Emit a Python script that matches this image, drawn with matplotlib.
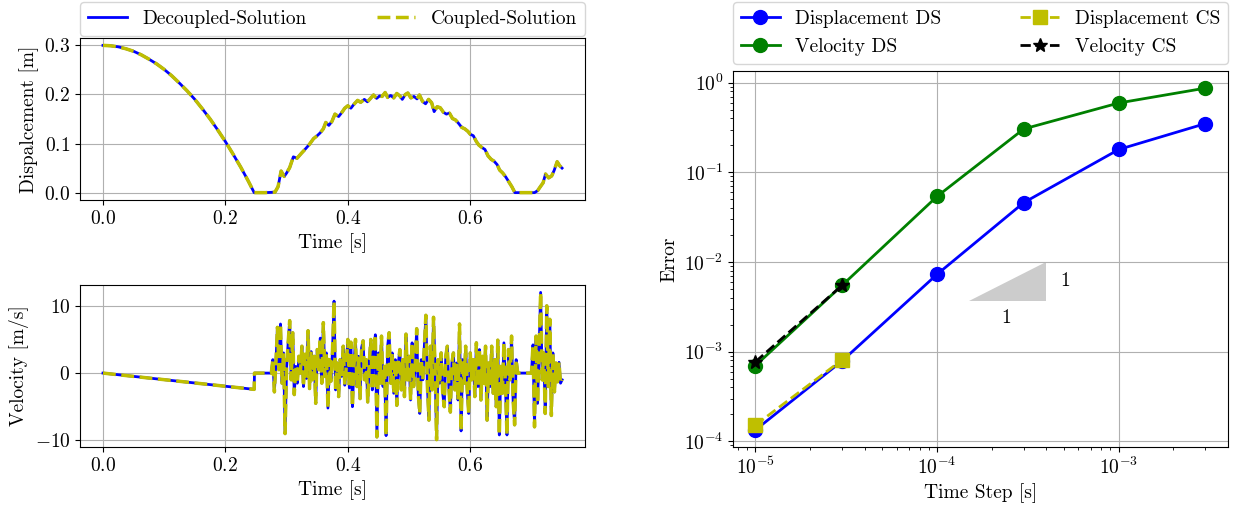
import numpy as np
import matplotlib
matplotlib.use("Agg")
import matplotlib.pyplot as plt
from matplotlib.ticker import MultipleLocator

plt.rcParams['font.family'] = 'serif'
plt.rcParams['font.serif'] = ['cmr10']
plt.rcParams['mathtext.fontset'] = 'cm'
plt.rcParams['axes.formatter.use_mathtext'] = True
plt.rcParams['font.size'] = 14

# displacement time history (same for decoupled / coupled)
disp_time = [0.0, 0.0125, 0.025, 0.0375, 0.05, 0.0625, 0.075, 0.0875, 0.1, 0.1125,
             0.125, 0.1375, 0.15, 0.1625, 0.175, 0.1875, 0.2, 0.2125, 0.225, 0.2375,
             0.247, 0.265, 0.281, 0.286, 0.291, 0.296, 0.300, 0.305, 0.311, 0.317,
             0.324, 0.330, 0.337, 0.344, 0.350, 0.355, 0.360, 0.364, 0.369, 0.374,
             0.379, 0.385, 0.390, 0.395, 0.400, 0.405, 0.410, 0.416, 0.421, 0.427,
             0.432, 0.437, 0.442, 0.447, 0.452, 0.456, 0.461, 0.465, 0.470, 0.475,
             0.480, 0.485, 0.489, 0.494, 0.498, 0.503, 0.508, 0.513, 0.517, 0.522,
             0.527, 0.532, 0.537, 0.541, 0.546, 0.551, 0.556, 0.561, 0.566, 0.571,
             0.576, 0.581, 0.586, 0.591, 0.596, 0.600, 0.605, 0.610, 0.614, 0.619,
             0.624, 0.629, 0.634, 0.639, 0.644, 0.648, 0.653, 0.658, 0.663, 0.668,
             0.673, 0.705, 0.710, 0.715, 0.719, 0.723, 0.728, 0.733, 0.737, 0.742,
             0.746, 0.750]
disp_vals = [0.300, 0.2992, 0.297, 0.2931, 0.288, 0.2808, 0.272, 0.2624, 0.251, 0.2379,
             0.223, 0.2073, 0.190, 0.1705, 0.150, 0.1276, 0.104, 0.0785, 0.052, 0.0233,
             0.000, 0.000, 0.001, 0.012, 0.044, 0.033, 0.040, 0.051, 0.073, 0.070,
             0.080, 0.088, 0.098, 0.110, 0.116, 0.122, 0.130, 0.143, 0.137, 0.145,
             0.160, 0.155, 0.163, 0.172, 0.177, 0.172, 0.180, 0.188, 0.184, 0.190,
             0.185, 0.192, 0.199, 0.192, 0.197, 0.196, 0.204, 0.194, 0.198, 0.193,
             0.202, 0.197, 0.190, 0.200, 0.203, 0.193, 0.196, 0.191, 0.199, 0.186,
             0.181, 0.190, 0.183, 0.165, 0.175, 0.173, 0.164, 0.160, 0.162, 0.151,
             0.148, 0.141, 0.133, 0.130, 0.125, 0.119, 0.116, 0.104, 0.097, 0.092,
             0.088, 0.075, 0.068, 0.064, 0.057, 0.046, 0.040, 0.032, 0.022, 0.012,
             0.000, 0.000, 0.004, 0.013, 0.020, 0.038, 0.030, 0.034, 0.045, 0.063,
             0.055, 0.050]

# velocity: free fall, rest, then contact chatter
vel_fall_time = [0.0, 0.1, 0.2, 0.247, 0.2475, 0.275]
vel_fall_vals = [0.0, -0.98, -1.96, -2.42, 0.0, 0.0]
vel_noise1_start, vel_step = 0.2775, 0.0025
vel_noise1 = [2.0, -2.8, 1.5, 6.8, 0.5, 7.3, -1.5, 3.0, -9.0, 0.8,
              4.5, 7.8, -1.0, 6.0, -3.2, 1.0, -1.5, 2.5, 0.0, 4.0,
              -2.0, 2.8, -0.8, 6.3, -2.3, 3.2, -1.0, 2.5, -4.5, 3.5,
              0.5, 5.2, -1.5, 7.5, -0.5, 3.0, -5.2, 2.0, -1.2, 3.5,
              10.7, -2.5, 1.5, -3.5, 2.0, -0.5, 4.0, -1.8, 1.0, 5.0,
              -2.2, 4.6, -5.0, 1.0, 5.0, -2.0, 2.5, -3.8, 3.8, 4.8,
              -1.0, 2.0, -4.3, 1.5, 5.0, -2.5, 3.5, 5.7, -9.5, 3.0,
              -1.5, 5.5, -2.0, 1.0, -9.3, 4.0, 6.0, -1.5, 3.0, -3.0,
              2.0, -4.8, 1.5, 3.5, -2.5, 2.0, -3.5, 5.8, -1.0, 2.5,
              -4.0, 4.5, -2.0, 1.0, 6.6, -3.0, -6.0, 2.0, -1.0, 4.0,
              8.6, -2.0, -7.0, 4.0, -2.5, 8.3, 1.0, -9.9, 2.0, -1.5,
              3.0, -3.0, -5.0, 2.5, 4.0, -2.0, -5.8, 1.5, 3.0, -2.5,
              1.5, -4.0, 7.3, -8.6, 2.0, -1.5, 4.0, -2.5, -6.0, 3.0,
              -1.0, 2.0, -3.5, 4.5, -2.0, 3.5, -4.0, 2.5, -1.5, 4.0,
              -7.0, 1.5, -2.0, 4.0, -3.0, 2.0, -5.0, 4.9, -9.2, 1.0,
              -3.0, 4.5, -2.0, -9.2, 3.5, -1.0, 5.5, -4.0, -7.7, 2.0,
              0.0]
vel_noise2_start = 0.7
vel_noise2 = [0.0, 4.2, -8.0, 5.5, -4.5, 3.5, 12.0, -1.0, 3.0, -6.0,
              10.0, -2.0, 8.0, -6.3, 3.0, -2.8, 1.5, -1.3, 1.6, -1.5,
              -1.0]

vel_time = (vel_fall_time
            + list(vel_noise1_start + vel_step * np.arange(len(vel_noise1)))
            + list(vel_noise2_start + vel_step * np.arange(len(vel_noise2))))
vel_vals = vel_fall_vals + vel_noise1 + vel_noise2

# convergence study
time_steps = [1e-5, 3e-5, 1e-4, 3e-4, 1e-3, 3e-3]
err_disp_ds = [1.34e-4, 7.9e-4, 7.3e-3, 0.046, 0.18, 0.35]
err_vel_ds = [7.0e-4, 5.5e-3, 0.054, 0.305, 0.594, 0.87]
cs_steps = [1e-5, 3e-5]
err_disp_cs = [1.52e-4, 8.1e-4]
err_vel_cs = [7.7e-4, 5.5e-3]

# slope triangle
tri_x = [1.5e-4, 4e-4, 4e-4]
tri_y = [3.7e-3, 3.7e-3, 9.9e-3]

fig = plt.figure(figsize=(12.35, 5.11), dpi=100)
ax1 = fig.add_axes([0.0648, 0.6086, 0.4089, 0.317])
ax2 = fig.add_axes([0.0648, 0.1252, 0.4089, 0.317])
ax3 = fig.add_axes([0.5935, 0.1252, 0.4008, 0.7358])

ax1.plot(disp_time, disp_vals, 'b-', lw=2, label='Decoupled-Solution')
ax1.plot(disp_time, disp_vals, 'y--', lw=2.5, label='Coupled-Solution')
ax1.set_xlabel('Time [s]')
ax1.set_ylabel('Dispalcement [m]')
ax1.xaxis.set_major_locator(MultipleLocator(0.2))
ax1.grid(True)
ax1.legend(loc='lower left', bbox_to_anchor=(0, 1.015, 1, 0.2), mode='expand',
           ncol=2, borderaxespad=0)

ax2.plot(vel_time, vel_vals, 'b-', lw=2)
ax2.plot(vel_time, vel_vals, 'y--', lw=2.5)
ax2.set_xlabel('Time [s]')
ax2.set_ylabel('Velocity [m/s]')
ax2.xaxis.set_major_locator(MultipleLocator(0.2))
ax2.grid(True)

ax3.fill(tri_x, tri_y, color='0.8', lw=0, zorder=1)
ax3.plot(time_steps, err_disp_ds, 'b-o', lw=2, ms=10, label='Displacement DS')
ax3.plot(time_steps, err_vel_ds, 'g-o', lw=2, ms=10, label='Velocity DS')
ax3.plot(cs_steps, err_disp_cs, 'y--s', lw=2, ms=10, label='Displacement CS')
ax3.plot(cs_steps, err_vel_cs, 'k--*', lw=2, ms=10, label='Velocity CS')
ax3.text(5.1e-4, 6.1e-3, '1', ha='center', va='center')
ax3.text(2.4e-4, 2.35e-3, '1', ha='center', va='center')
ax3.set_xscale('log')
ax3.set_yscale('log')
ax3.set_xlabel('Time Step [s]')
ax3.set_ylabel('Error')
ax3.grid(True)
ax3.legend(loc='lower left', bbox_to_anchor=(0, 1.02, 1, 0.2), mode='expand',
           ncol=2, borderaxespad=0)

fig.savefig('out.png', dpi=100)
